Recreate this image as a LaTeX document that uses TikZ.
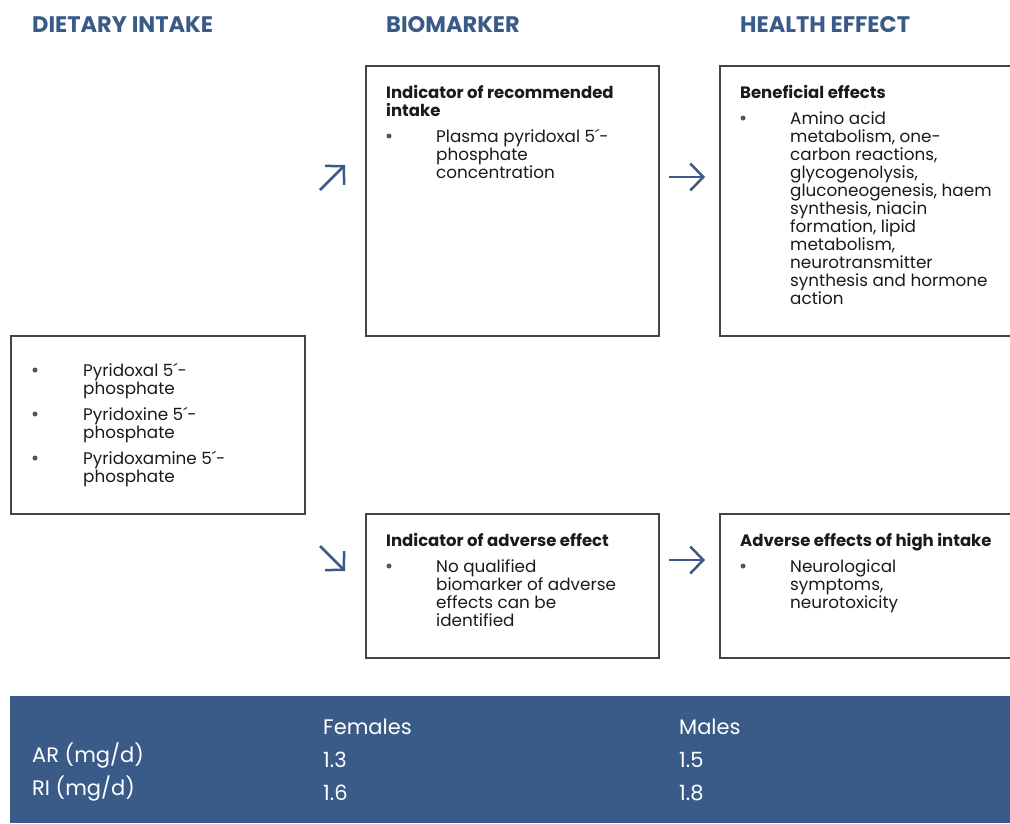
\documentclass[tikz,border=0pt]{standalone}
\usepackage{fontspec}
\setmainfont{Poppins}
\usetikzlibrary{arrows.meta}
\definecolor{efsablue}{HTML}{3A5A87}
\definecolor{boxgray}{HTML}{444444}
\definecolor{txtcol}{HTML}{1A1A1A}
\definecolor{bulcol}{HTML}{555555}
\newcommand\linesat[4]{%
  \foreach \t [count=\i from 0] in {#4}
    \node[body] (#1-\i) at (#2, #3+18*\i) {\t};}
\begin{document}
\begin{tikzpicture}[x=1pt,y=-1pt,
  box/.style={draw=boxgray, line width=2pt, inner sep=0pt, anchor=north west},
  body/.style={inner sep=0pt, anchor=base west, text=txtcol, font=\fontsize{16.8}{18}\selectfont},
  head/.style={body, font=\fontsize{16.5}{18}\selectfont\bfseries},
  bul/.style={circle, fill=bulcol, inner sep=0pt, minimum size=5pt},
  colhead/.style={inner sep=0pt, anchor=base west, text=efsablue, font=\fontsize{22.5}{24}\selectfont\bfseries},
  tab/.style={inner sep=0pt, anchor=base west, text=white, font=\fontsize{21}{24}\selectfont},
  flow/.style={draw=efsablue, line width=2.5pt, -{Straight Barb[length=13pt,width=27pt]}}
]
\useasboundingbox (0,0) rectangle (1010,823);
\clip (0,0) rectangle (1010,823);

% column headings
\node[colhead] (hdiet) at (32,32) {DIETARY INTAKE};
\node[colhead] (hbio)  at (386,32) {BIOMARKER};
\node[colhead] (hhe)   at (740,32) {HEALTH EFFECT};

% boxes
\node[box, minimum width=294pt, minimum height=178pt] (intake) at (10,335) {};
\node[box, minimum width=293pt, minimum height=270pt] (rec) at (365,65) {};
\node[box, minimum width=300pt, minimum height=270pt] (ben) at (719,65) {};
\node[box, minimum width=293pt, minimum height=144pt] (adv) at (365,513) {};
\node[box, minimum width=300pt, minimum height=144pt] (high) at (719,513) {};

% intake box text
\node[bul] (b1) at (35,370) {};
\linesat{i1}{83}{376}{Pyridoxal 5´-, phosphate}
\node[bul] (b2) at (35,414) {};
\linesat{i2}{83}{420}{Pyridoxine 5´-, phosphate}
\node[bul] (b3) at (35,458) {};
\linesat{i3}{83}{464}{Pyridoxamine 5´-, phosphate}

% recommended intake box
\node[head] (rech1) at (386,98) {Indicator of recommended};
\node[head] (rech2) at (386,116) {intake};
\node[bul] (b4) at (389,136) {};
\linesat{r}{436}{142}{Plasma pyridoxal 5´-, phosphate, concentration}

% beneficial effects box
\node[head] (benh) at (740,98) {Beneficial effects};
\node[bul] (b5) at (743,118) {};
\linesat{e}{790}{124}{Amino acid, {metabolism, one-}, {carbon reactions,}, {glycogenolysis,}, {gluconeogenesis, haem}, {synthesis, niacin}, {formation, lipid}, {metabolism,}, neurotransmitter, synthesis and hormone, action}

% adverse indicator box
\node[head] (advh) at (386,546) {Indicator of adverse effect};
\node[bul] (b6) at (389,566) {};
\linesat{a}{436}{572}{No qualified, biomarker of adverse, effects can be, identified}

% adverse effects box
\node[head] (highh) at (740,546) {Adverse effects of high intake};
\node[bul] (b7) at (743,566) {};
\linesat{h}{790}{572}{Neurological, {symptoms,}, neurotoxicity}

% arrows
\coordinate (u0) at (320,190);
\coordinate (u1) at (345,165);
\coordinate (d0) at (320,546);
\coordinate (d1) at (345,571);
\coordinate (r0) at (669,177);
\coordinate (r1) at (705,177);
\coordinate (s0) at (669,560);
\coordinate (s1) at (705,560);
\draw[flow] (u0) -- (u1);
\draw[flow] (d0) -- (d1);
\draw[flow] (r0) -- (r1);
\draw[flow] (s0) -- (s1);

% reference values band
\node[fill=efsablue, inner sep=0pt, minimum width=1000pt, minimum height=127pt, anchor=north west] (band) at (10,696) {};
\node[tab] (tf) at (323,734) {Females};
\node[tab] (tm) at (679,734) {Males};
\node[tab] (tar) at (32,762) {AR (mg/d)};
\node[tab] (tri) at (32,795) {RI (mg/d)};
\node[tab] (f1) at (323,767) {1.3};
\node[tab] (m1) at (679,767) {1.5};
\node[tab] (f2) at (323,800) {1.6};
\node[tab] (m2) at (679,800) {1.8};
\end{tikzpicture}
\end{document}
